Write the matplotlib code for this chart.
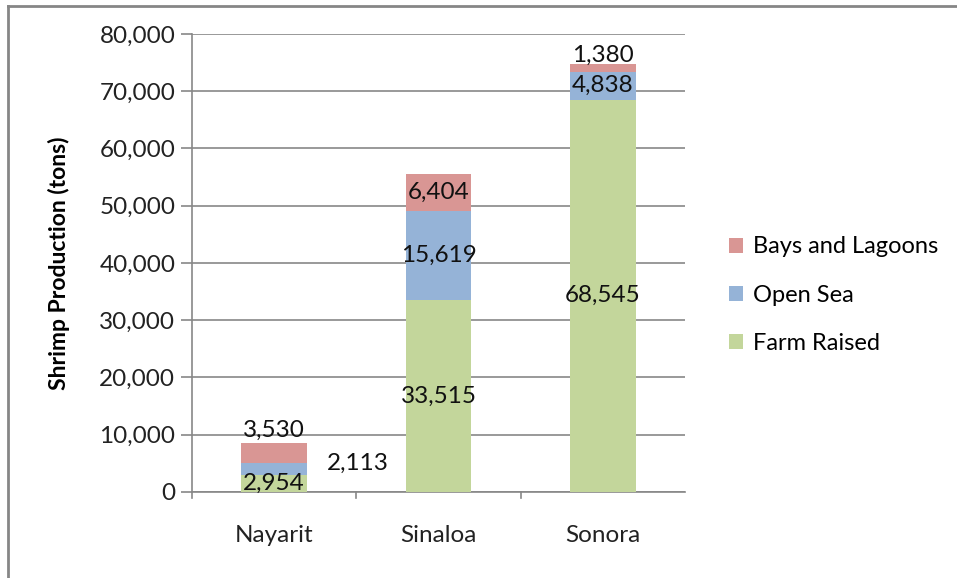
import matplotlib.pyplot as plt
from matplotlib.lines import Line2D
from matplotlib.ticker import FuncFormatter

plt.rcParams['font.family'] = ['Lato', 'DejaVu Sans']

states = ['Nayarit', 'Sinaloa', 'Sonora']
farm_raised = [2954, 33515, 68545]
open_sea = [2113, 15619, 4838]
bays_lagoons = [3530, 6404, 1380]

green = '#C3D69B'
blue = '#95B3D7'
red = '#D99694'
grid_col = '#878787'

fig = plt.figure(figsize=(9.57, 5.78), dpi=100)
ax = fig.add_axes([0.2006, 0.1488, 0.5152, 0.7924])

x = range(len(states))
w = 0.4
base2 = [a + b for a, b in zip(farm_raised, open_sea)]
b1 = ax.bar(x, farm_raised, w, color=green, label='Farm Raised', zorder=3)
b2 = ax.bar(x, open_sea, w, bottom=farm_raised, color=blue, label='Open Sea', zorder=3)
b3 = ax.bar(x, bays_lagoons, w, bottom=base2, color=red, label='Bays and Lagoons', zorder=3)

ax.set_xlim(-0.5, 2.5)
ax.set_ylim(0, 80000)
ax.set_yticks(range(0, 80001, 10000))
ax.yaxis.set_major_formatter(FuncFormatter(lambda v, p: f'{int(v):,}'))
ax.set_xticks(list(x))
ax.set_xticklabels(states)
ax.tick_params(axis='x', length=0, pad=24, labelsize=17.5, colors='#222222')
ax.tick_params(axis='y', length=8, width=1.2, color=grid_col, labelsize=17.5, colors='#222222', pad=4)
ax.yaxis.grid(True, color=grid_col, linewidth=1.2, zorder=0)
for side in ['top', 'right']:
    ax.spines[side].set_visible(False)
for side in ['left', 'bottom']:
    ax.spines[side].set_color(grid_col)
    ax.spines[side].set_linewidth(1.2)

# category separator ticks on the x axis
for xb in [-0.5, 0.5, 1.5]:
    ax.plot([xb, xb], [0, -1000], color=grid_col, linewidth=1.2, clip_on=False, zorder=4)

ax.set_ylabel('Shrimp Production (tons)', fontsize=16.5, fontweight='bold', labelpad=21)

# data labels
fs = 17.5
tc = '#111111'
for i in x:
    vals = [(farm_raised[i], farm_raised[i] / 2),
            (open_sea[i], farm_raised[i] + open_sea[i] / 2),
            (bays_lagoons[i], base2[i] + bays_lagoons[i] / 2)]
    for k, (v, yc) in enumerate(vals):
        dx, dy = 0, 0
        if i == 0 and k == 1:
            dx, dy = 60, 4
        if i == 0 and k == 2:
            dy = 16
        if i == 2 and k == 2:
            dy = 9
        ax.annotate(f'{v:,}', (i, yc), xytext=(dx, dy), textcoords='offset points',
                    ha='center', va='center', fontsize=fs, color=tc, zorder=5)

handles = [b3, b2, b1]
ax.legend(handles, [h.get_label() for h in handles], loc='center left',
          bbox_to_anchor=(1.07, 0.43), frameon=False, fontsize=17,
          handlelength=0.6, handleheight=0.6, handletextpad=0.4, labelspacing=1.15,
          borderaxespad=0)

# chart frame (top and left edges visible)
fig.add_artist(Line2D([8 / 957, 1], [1 - 6 / 578, 1 - 6 / 578], transform=fig.transFigure,
                      color='#868686', linewidth=2))
fig.add_artist(Line2D([8 / 957, 8 / 957], [0, 1 - 6 / 578], transform=fig.transFigure,
                      color='#868686', linewidth=2))

fig.savefig('out.png', dpi=100)
